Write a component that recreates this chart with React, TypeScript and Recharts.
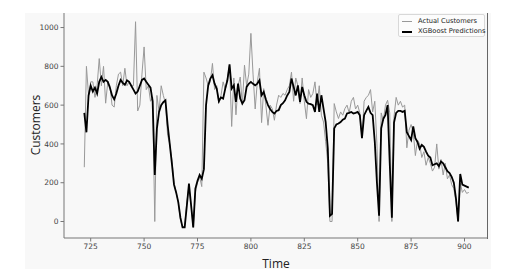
import React from 'react';
import { LineChart, Line, XAxis, YAxis } from 'recharts';

const startTime = 722;

const actualCustomers = [
  280, 800, 650, 720, 720, 640, 700, 840, 700, 800,
  610, 720, 700, 600, 590, 700, 760, 770, 700, 790,
  700, 720, 700, 700, 1030, 570, 600, 760, 900, 680,
  700, 620, 640, 0, 650, 565, 700, 650, 610, 445,
  400, 320, 200, 150, 100, 10, -30, -20, 100, 180,
  80, -30, 150, 200, 230, 180, 770, 740, 700, 720,
  815, 680, 700, 610, 650, 720, 680, 740, 806, 490,
  740, 550, 700, 745, 600, 806, 700, 760, 970, 760,
  580, 720, 790, 510, 685, 600, 496, 600, 582, 522,
  600, 651, 640, 660, 651, 680, 700, 770, 620, 740,
  700, 608, 740, 620, 530, 680, 640, 660, 720, 600,
  700, 548, 513, 411, 300, 0, 0, 608, 565, 531,
  565, 548, 582, 600, 560, 620, 640, 580, 600, 560,
  430, 620, 640, 650, 680, 565, 620, 400, 0, 560,
  520, 600, 625, 560, 0, 540, 640, 600, 620, 590,
  600, 380, 470, 500, 460, 340, 420, 400, 330, 360,
  290, 330, 300, 260, 280, 400, 270, 320, 240, 300,
  220, 240, 190, 170, 100, 0, 200, 150, 165, 145, 150,
];

const xgbPredictions = [
  560, 460, 650, 700, 670, 690, 660, 720, 745, 720,
  730, 720, 690, 650, 630, 660, 700, 730, 715, 705,
  728, 720, 700, 680, 660, 670, 700, 730, 737, 720,
  705, 690, 620, 240, 480, 565, 600, 615, 625, 500,
  400, 300, 190, 150, 100, 20, -30, -30, 80, 195,
  85, -30, 170, 210, 240, 220, 270, 600, 700, 737,
  754, 711, 685, 620, 640, 634, 685, 728, 810, 685,
  702, 617, 711, 634, 608, 625, 694, 710, 720, 710,
  702, 711, 728, 651, 668, 630, 600, 580, 565, 557,
  570, 574, 600, 610, 625, 650, 668, 737, 694, 650,
  702, 617, 694, 651, 617, 608, 605, 600, 565, 660,
  565, 651, 582, 513, 377, 30, 40, 480, 500, 505,
  513, 525, 531, 557, 560, 565, 557, 560, 565, 548,
  430, 548, 570, 591, 560, 548, 410, 200, 30, 480,
  530, 550, 600, 300, 20, 510, 560, 570, 570, 565,
  570, 460, 440, 420, 490, 430, 410, 375, 395, 385,
  360, 340, 330, 290, 295, 300, 285, 310, 300, 280,
  260, 250, 230, 200, 120, 0, 245, 190, 185, 180, 175,
];

const xTicks = [725, 750, 775, 800, 825, 850, 875, 900];
const yTicks = [0, 200, 400, 600, 800, 1000];

const data = actualCustomers.map((a, i) => ({
  t: startTime + i,
  actual: a,
  pred: xgbPredictions[i],
}));

const tickStyle = { fontSize: 7.5, fill: '#444', fontFamily: 'DejaVu Sans' };

export default function App() {
  return (
    <div style={{ position: 'absolute', left: 0, top: 0, width: 508, height: 274, background: '#fff' }}>
      <div style={{ position: 'absolute', left: 25, top: 13, width: 466, height: 256, background: '#f8f8f8' }} />
      <div style={{ position: 'absolute', left: 0, top: 0 }}>
        <LineChart width={508} height={274} data={data} margin={{ top: 13, right: 20, bottom: 0, left: 0 }}>
          <XAxis
            dataKey="t"
            type="number"
            domain={[712.5, 911]}
            ticks={xTicks}
            tick={tickStyle}
            tickSize={3.5}
            height={36}
            stroke="#777"
            allowDataOverflow
          />
          <YAxis
            type="number"
            domain={[-85, 1075]}
            ticks={yTicks}
            tick={tickStyle}
            tickSize={3.5}
            width={64}
            stroke="#777"
            allowDataOverflow
          />
          <Line
            dataKey="actual"
            stroke="#999"
            strokeWidth={1}
            dot={false}
            isAnimationActive={false}
          />
          <Line
            dataKey="pred"
            stroke="#000"
            strokeWidth={1.8}
            dot={false}
            isAnimationActive={false}
          />
        </LineChart>
      </div>
      {/* right spine, drawn over the chart */}
      <div style={{ position: 'absolute', left: 487, top: 13, width: 1, height: 226, background: '#666' }} />
      <div
        style={{
          position: 'absolute', left: 35, top: 125, transform: 'translate(-50%, -50%) rotate(-90deg)',
          fontFamily: 'Open Sans', fontSize: 12, color: '#222', whiteSpace: 'nowrap',
        }}
      >
        Customers
      </div>
      <div
        style={{
          position: 'absolute', left: 276, top: 263, transform: 'translate(-50%, -50%)',
          fontFamily: 'Open Sans', fontSize: 12, color: '#222',
        }}
      >
        Time
      </div>
      <div
        style={{
          position: 'absolute', left: 398, top: 14, width: 87, height: 23, boxSizing: 'border-box',
          border: '1px solid #d8d8d8', borderRadius: 2, background: '#fcfcfc',
          fontFamily: 'DejaVu Sans', fontSize: 6.7, color: '#222', whiteSpace: 'nowrap',
        }}
      >
        <div style={{ position: 'absolute', left: 3, top: 6, width: 10, height: 1, background: '#999' }} />
        <div style={{ position: 'absolute', left: 19, top: 2, lineHeight: '9px' }}>Actual Customers</div>
        <div style={{ position: 'absolute', left: 3, top: 16, width: 10, height: 2, background: '#000' }} />
        <div style={{ position: 'absolute', left: 19, top: 12, lineHeight: '9px' }}>XGBoost Predictions</div>
      </div>
    </div>
  );
}
